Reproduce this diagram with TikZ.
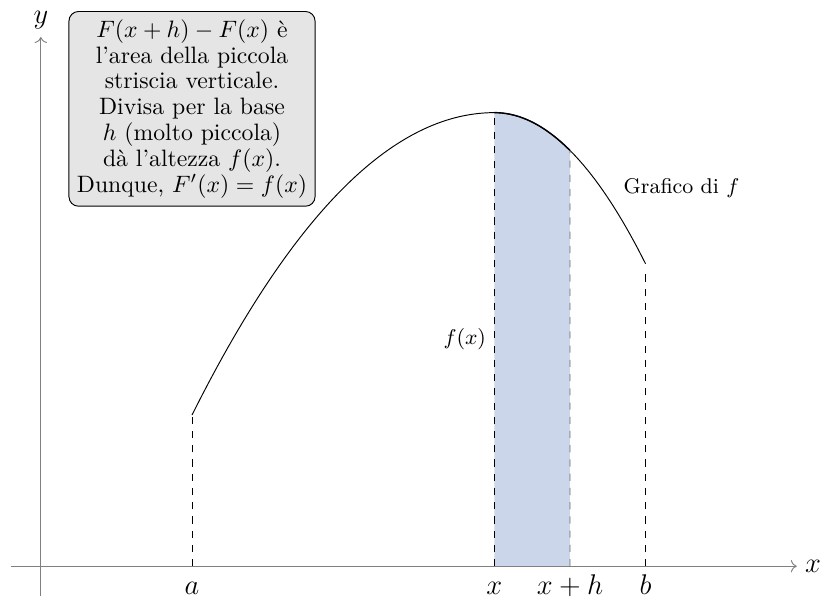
\documentclass[tikz,border=0pt]{standalone}
\usepackage{amsmath,amssymb}
\usetikzlibrary{positioning,arrows.meta}
\definecolor{stripblue}{RGB}{203,214,234}

\begin{document}
\begin{tikzpicture}[x=1.12cm,y=1.12cm,>={To},
  asse/.style={->,gray},
  guida/.style={dashed},
  etichetta/.style={anchor=base,font=\large},
  nota/.style={draw,rounded corners,fill=gray!20,align=center,
    font=\fontsize{10pt}{10.9pt}\selectfont}]
\useasboundingbox (-0.54,-0.49) rectangle (10.4,7.49);
% striscia
\fill[stripblue] (6,0) -- plot[domain=6:7,samples=20] (\x,{6-0.5*(\x-6)^2}) -- (7,0) -- cycle;
% assi
\coordinate (O) at (0,0);
\coordinate (xend) at (10,0);
\coordinate (yend) at (0,7);
\draw[asse] (-0.4,0) -- (xend) node[right,black,font=\large] (xlab) {$x$};
\draw[asse] (0,-0.4) -- (yend) node[above,black,font=\large] (ylab) {$y$};
% grafico
\draw plot[domain=2:6,samples=60] (\x,{6-0.25*(\x-6)^2})
  -- plot[domain=6:8,samples=40] (\x,{6-0.5*(\x-6)^2}) coordinate (fb);
\draw[semithick] plot[domain=6:7,samples=20] (\x,{6-0.5*(\x-6)^2}) coordinate (fxh);
% punti
\coordinate (pa) at (2,0);
\coordinate (px) at (6,0);
\coordinate (pxh) at (7,0);
\coordinate (pb) at (8,0);
\coordinate (fa) at (2,2);
\coordinate (fx) at (6,6);
\draw[guida] (pa) -- (fa);
\draw[guida] (px) -- (fx);
\draw[guida,black!60] (pxh) -- (fxh);
\draw[guida] (pb) -- (8,3.9);
\node[etichetta] (la) at (2,-0.37) {$a$};
\node[etichetta] (lx) at (6,-0.37) {$x$};
\node[etichetta] (lxh) at (7,-0.37) {$x+h$};
\node[etichetta] (lb) at (8,-0.37) {$b$};
\node[left,font=\small] (lfx) at (6,3) {$f(x)$};
\node[right,font=\small] (graf) at (7.6,5) {Grafico di $f$};
\node[nota] (testo) at (2,6.05) {$F(x+h)-F(x)$ è\\ l'area della piccola\\ striscia verticale.\\ Divisa per la base\\ $h$ (molto piccola)\\ dà l'altezza $f(x)$.\\ Dunque, $F'(x)=f(x)$};
\end{tikzpicture}
\end{document}
